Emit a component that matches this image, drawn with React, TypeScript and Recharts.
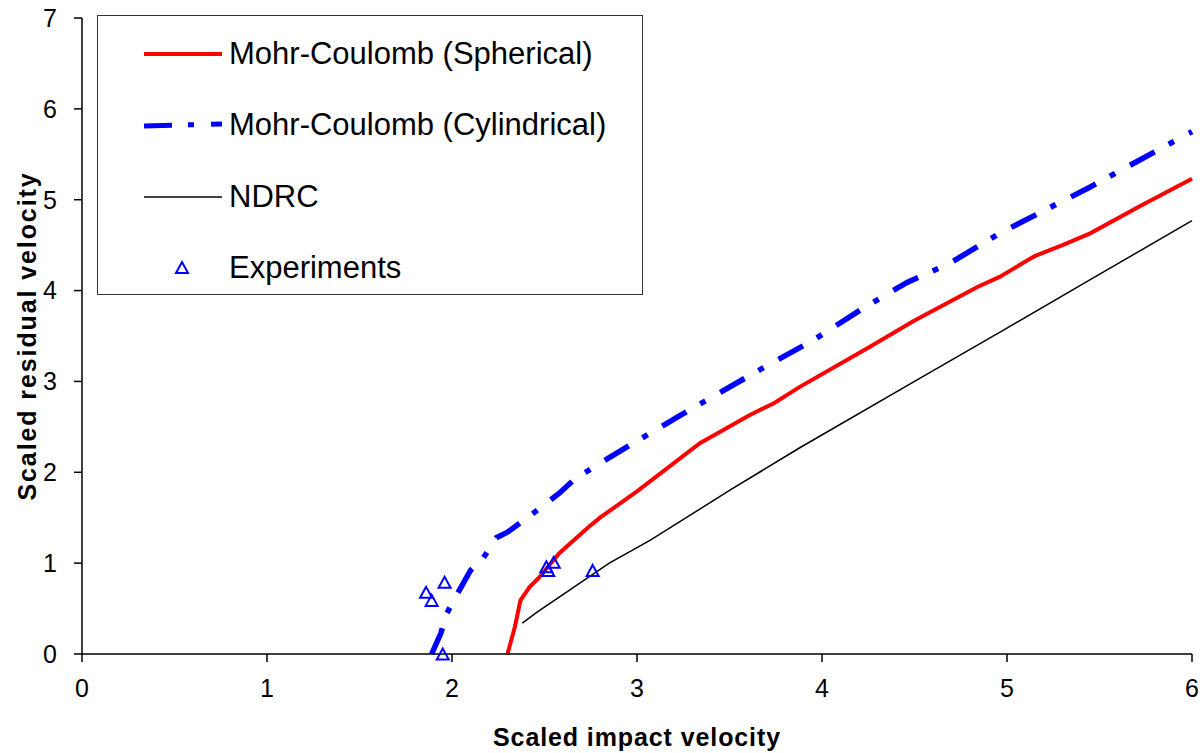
import React from 'react';
import { ComposedChart, Line, Scatter, XAxis, YAxis } from 'recharts';

const sphericalX = [2.30, 2.34, 2.37, 2.42, 2.47, 2.58, 2.74, 2.80, 3.00, 3.34, 3.61, 3.74, 3.88, 4.25, 4.50, 4.84, 4.96, 5.15, 5.30, 5.45, 5.72, 6.00];
const sphericalY = [0.00, 0.30, 0.59, 0.74, 0.84, 1.11, 1.40, 1.50, 1.79, 2.32, 2.63, 2.76, 2.94, 3.37, 3.67, 4.04, 4.15, 4.38, 4.50, 4.63, 4.93, 5.23];

const cylindricalX = [1.89, 1.94, 1.97, 2.02, 2.10, 2.17, 2.24, 2.30, 2.44, 2.58, 2.66, 2.80, 2.98, 3.22, 3.45, 3.70, 3.95, 4.21, 4.46, 4.69, 4.96, 5.20, 5.45, 5.72, 6.00];
const cylindricalY = [0.00, 0.23, 0.44, 0.63, 0.92, 1.06, 1.28, 1.34, 1.55, 1.77, 1.92, 2.10, 2.32, 2.61, 2.88, 3.17, 3.45, 3.79, 4.09, 4.30, 4.63, 4.88, 5.14, 5.44, 5.75];

const ndrcX = [2.38, 2.46, 2.85, 3.07, 3.50, 3.88, 4.50, 4.96, 5.45, 6.00];
const ndrcY = [0.34, 0.46, 1.00, 1.25, 1.80, 2.27, 3.00, 3.54, 4.12, 4.77];

const expX = [1.86, 1.89, 1.96, 1.95, 2.51, 2.52, 2.55, 2.76];
const expY = [0.68, 0.59, 0.79, 0.00, 0.96, 0.92, 1.01, 0.92];

const xTicks = [0, 1, 2, 3, 4, 5, 6];
const yTicks = [0, 1, 2, 3, 4, 5, 6, 7];

const seriesNames = [
  'Mohr-Coulomb (Spherical)',
  'Mohr-Coulomb (Cylindrical)',
  'NDRC',
  'Experiments',
];

const zip = (xs: number[], ys: number[]) => xs.map((x, i) => ({ x, y: ys[i] }));

const sphericalData = zip(sphericalX, sphericalY);
const cylindricalData = zip(cylindricalX, cylindricalY);
const ndrcData = zip(ndrcX, ndrcY);
const expData = zip(expX, expY);

const FONT = '"Liberation Sans", Arial, sans-serif';
const BLUE = '#0000ff';
const RED = '#ff0000';
const DASH = '28 16 6 17';

const Triangle = (props: any) => {
  const { cx, cy } = props;
  if (cx == null || cy == null) return null;
  const h = 11;
  const w = 12;
  const pts = `${cx},${cy - h / 2} ${cx - w / 2},${cy + h / 2} ${cx + w / 2},${cy + h / 2}`;
  return <polygon points={pts} fill="none" stroke={BLUE} strokeWidth={2} />;
};

const LegendBox = () => {
  const textStyle: React.CSSProperties = {
    position: 'absolute',
    left: 131,
    top: 0,
    fontSize: 31,
    fontFamily: FONT,
    color: '#000',
    whiteSpace: 'nowrap',
    lineHeight: '40px',
  };
  const rows = [38, 109, 181, 252];
  const sample = (i: number) => {
    if (i === 0) return <line x1={46} x2={124} y1={20} y2={20} stroke={RED} strokeWidth={4} />;
    if (i === 1)
      return <line x1={46} x2={124} y1={21} y2={19} stroke={BLUE} strokeWidth={5} strokeDasharray={DASH} />;
    if (i === 2) return <line x1={46} x2={124} y1={20} y2={20} stroke="#000" strokeWidth={1.5} />;
    return <polygon points="84,14 78,25 90,25" fill="none" stroke={BLUE} strokeWidth={2} />;
  };
  return (
    <div
      style={{
        position: 'absolute',
        left: 97,
        top: 15,
        width: 546,
        height: 280,
        border: '1px solid #333',
        boxSizing: 'border-box',
        background: '#fff',
      }}
    >
      {seriesNames.map((name, i) => (
        <div key={name} style={{ position: 'absolute', left: 0, top: rows[i] - 20, width: 540, height: 40 }}>
          <svg width={130} height={40} style={{ position: 'absolute', left: 0, top: 0 }}>
            {sample(i)}
          </svg>
          <span style={textStyle}>{name}</span>
        </div>
      ))}
    </div>
  );
};

export default function App() {
  return (
    <div style={{ position: 'absolute', left: 0, top: 0, width: 1203, height: 753, background: '#fff' }}>
      <ComposedChart
        width={1203}
        height={753}
        margin={{ top: 18, right: 11, bottom: 0, left: 0 }}
        style={{ fontFamily: FONT }}
      >
        <XAxis
          dataKey="x"
          type="number"
          domain={[0, 6]}
          ticks={xTicks}
          height={99}
          tickSize={8}
          tickMargin={17}
          stroke="#000"
          strokeWidth={1.5}
          tick={{ fill: '#000', fontSize: 25, fontFamily: FONT }}
          label={{
            value: 'Scaled impact velocity',
            position: 'insideBottom',
            offset: 7,
            fill: '#000',
            fontSize: 25,
            fontWeight: 'bold',
            fontFamily: FONT,
            letterSpacing: 0.9,
          }}
        />
        <YAxis
          dataKey="y"
          type="number"
          domain={[0, 7]}
          ticks={yTicks}
          width={82}
          tickSize={8}
          tickMargin={17}
          stroke="#000"
          strokeWidth={1.5}
          tick={{ fill: '#000', fontSize: 25, fontFamily: FONT }}
          label={{
            value: 'Scaled residual velocity',
            angle: -90,
            position: 'insideLeft',
            offset: 27,
            textAnchor: 'middle',
            fill: '#000',
            fontSize: 25,
            fontWeight: 'bold',
            fontFamily: FONT,
            letterSpacing: 1.9,
          }}
        />
        <Line
          data={ndrcData}
          dataKey="y"
          name={seriesNames[2]}
          type="linear"
          stroke="#000"
          strokeWidth={1.5}
          dot={false}
          activeDot={false}
          isAnimationActive={false}
        />
        <Line
          data={sphericalData}
          dataKey="y"
          name={seriesNames[0]}
          type="linear"
          stroke={RED}
          strokeWidth={4}
          dot={false}
          activeDot={false}
          isAnimationActive={false}
        />
        <Line
          data={cylindricalData}
          dataKey="y"
          name={seriesNames[1]}
          type="linear"
          stroke={BLUE}
          strokeWidth={5.5}
          strokeDasharray={DASH}
          dot={false}
          activeDot={false}
          isAnimationActive={false}
        />
        <Scatter
          data={expData}
          dataKey="y"
          name={seriesNames[3]}
          shape={Triangle}
          isAnimationActive={false}
        />
      </ComposedChart>
      <LegendBox />
    </div>
  );
}
